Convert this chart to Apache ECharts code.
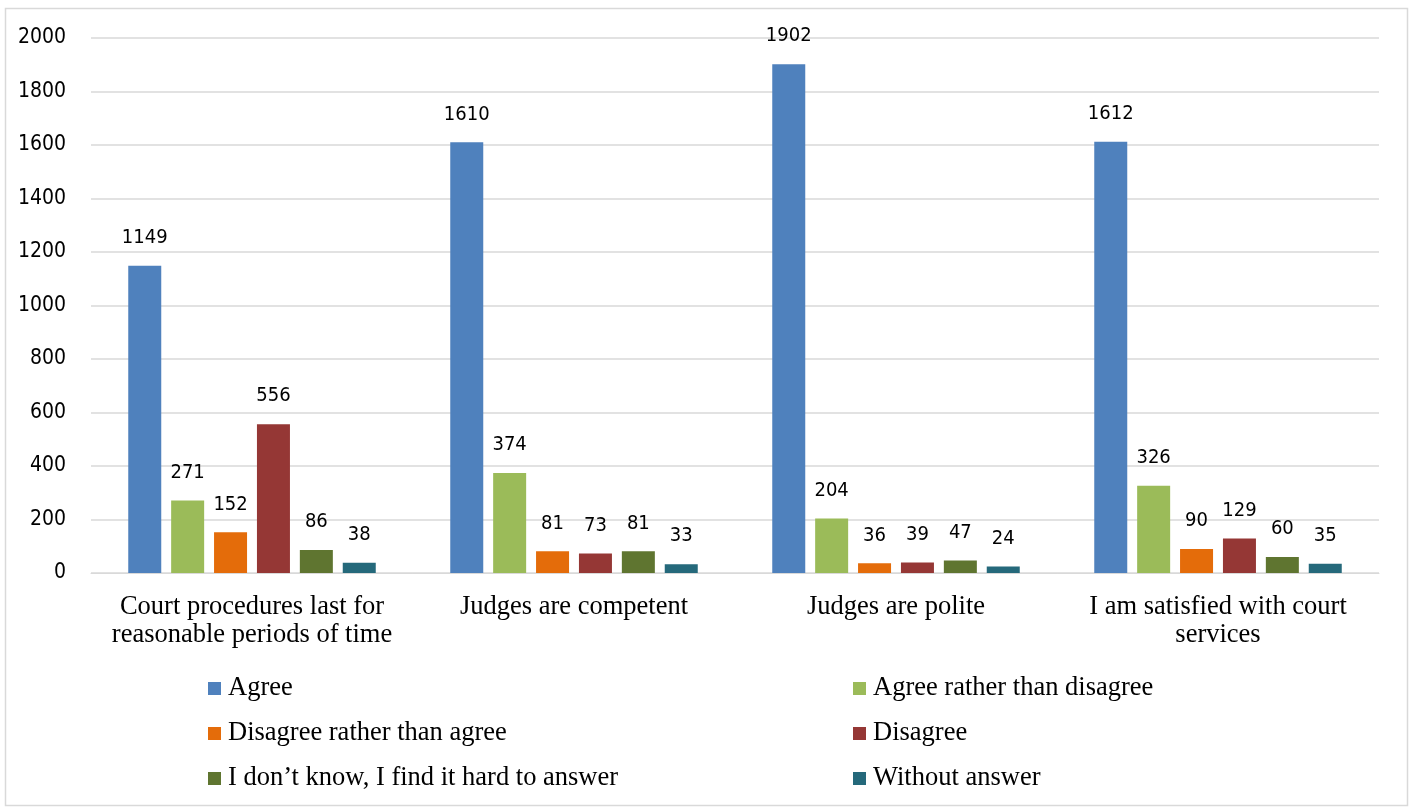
<!DOCTYPE html>
<html>
<head>
<meta charset="utf-8">
<style>
  html, body { margin: 0; padding: 0; background: #ffffff; }
  #chart { width: 1411px; height: 810px; }
</style>
<script src="https://cdn.jsdelivr.net/npm/echarts@6/dist/echarts.min.js"></script>
</head>
<body>
<div id="chart"></div>
<script>
// Survey statements (x-axis categories)
const categories = [
  'Court procedures last for\nreasonable periods of time',
  'Judges are competent',
  'Judges are polite',
  'I am satisfied with court\nservices'
];

// Answer options, one series each
const seriesNames = [
  'Agree',
  'Agree rather than disagree',
  'Disagree rather than agree',
  'Disagree',
  'I don\u2019t know, I find it hard to answer',
  'Without answer'
];

// Counts per statement for each answer
const agree            = [1149, 1610, 1902, 1612];
const agreeRather      = [271, 374, 204, 326];
const disagreeRather   = [152, 81, 36, 90];
const disagree         = [556, 73, 39, 129];
const dontKnow         = [86, 81, 47, 60];
const withoutAnswer    = [38, 33, 24, 35];

const seriesValues = [agree, agreeRather, disagreeRather, disagree, dontKnow, withoutAnswer];
const seriesColors = ['#4F81BD', '#9BBB59', '#E46C0A', '#953735', '#5F7530', '#25697B'];

const numberFont = '"Liberation Sans Narrow", "DejaVu Sans Condensed", "Roboto", sans-serif';
const textFont = '"Liberation Serif", "Times New Roman", serif';

const chart = echarts.init(document.getElementById('chart'), null, { renderer: 'canvas' });

const series = seriesNames.map((name, i) => ({
  name: name,
  type: 'bar',
  data: seriesValues[i],
  barWidth: 33,
  barGap: '30%',
  itemStyle: { color: seriesColors[i] },
  label: {
    show: true,
    position: 'top',
    distance: 18,
    color: '#000000',
    fontFamily: numberFont,
    fontSize: 20
  }
}));

const legendCommon = {
  orient: 'vertical',
  icon: 'rect',
  itemWidth: 13,
  itemHeight: 13,
  itemGap: 18,
  top: 675,
  padding: 0,
  selectedMode: false,
  textStyle: {
    fontFamily: textFont,
    fontSize: 26.5,
    color: '#000000',
    lineHeight: 22,
    padding: [0, 0, 0, 2]
  }
};

chart.setOption({
  backgroundColor: '#ffffff',
  animation: false,
  graphic: [{
    type: 'rect',
    shape: { x: 5.5, y: 8.5, width: 1402, height: 797 },
    style: { fill: 'none', stroke: '#d9d9d9', lineWidth: 1.5 },
    silent: true
  }],
  legend: [
    Object.assign({}, legendCommon, {
      left: 208,
      data: [seriesNames[0], seriesNames[2], seriesNames[4]]
    }),
    Object.assign({}, legendCommon, {
      left: 853,
      data: [seriesNames[1], seriesNames[3], seriesNames[5]]
    })
  ],
  grid: {
    left: 91,
    right: 32,
    top: 38,
    height: 535,
    containLabel: false
  },
  xAxis: {
    type: 'category',
    data: categories,
    axisTick: { show: false },
    axisLine: { lineStyle: { color: '#d9d9d9', width: 1 } },
    axisLabel: {
      interval: 0,
      margin: 20,
      color: '#000000',
      fontFamily: textFont,
      fontSize: 26.5,
      lineHeight: 28
    }
  },
  yAxis: {
    type: 'value',
    min: 0,
    max: 2000,
    interval: 200,
    axisLine: { show: false },
    axisTick: { show: false },
    splitLine: { lineStyle: { color: '#d9d9d9', width: 1.5 } },
    axisLabel: {
      margin: 25,
      color: '#000000',
      fontFamily: numberFont,
      fontSize: 21,
      formatter: function (v) { return String(v); }
    }
  },
  series: series
});
</script>
</body>
</html>
